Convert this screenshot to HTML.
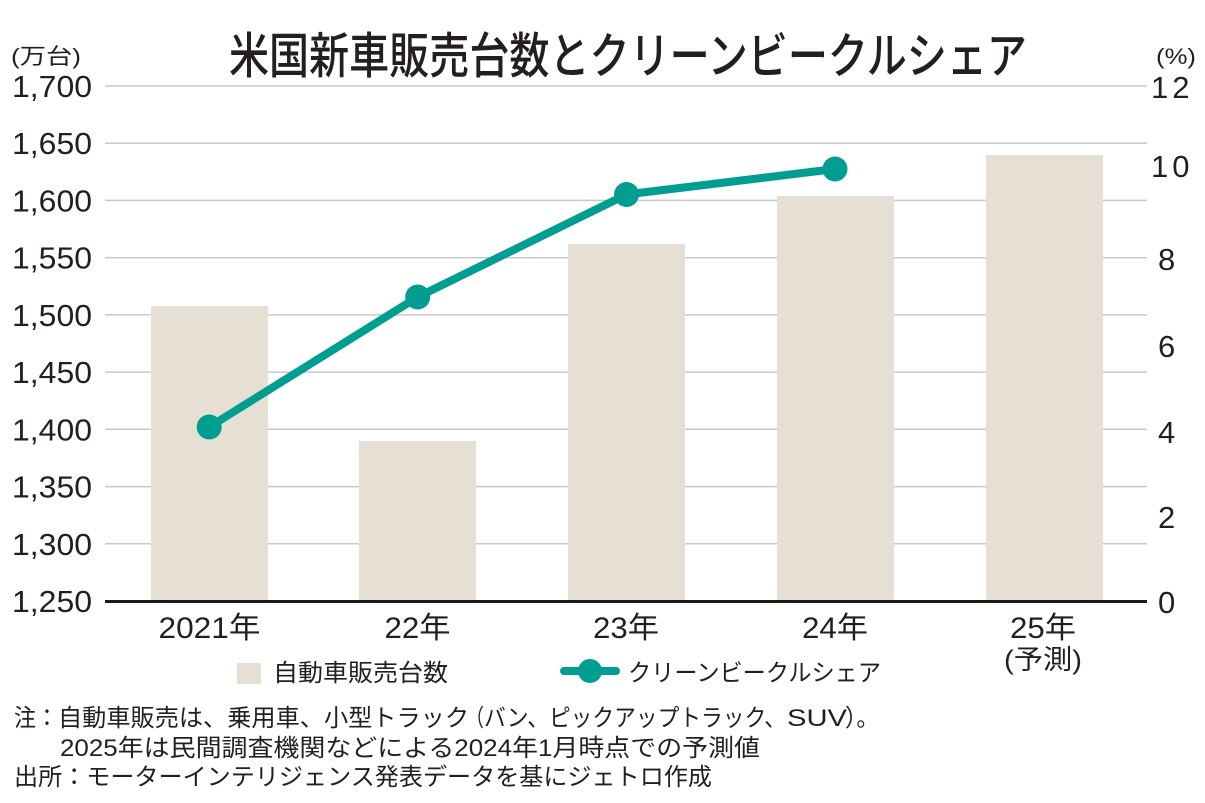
<!DOCTYPE html>
<html>
<head>
<meta charset="utf-8">
<style>
html,body{margin:0;padding:0;background:#fff;}
svg{display:block;}
text{font-family:"Liberation Sans","Noto Sans CJK JP",sans-serif;fill:#231f20;}
</style>
</head>
<body>
<svg width="1205" height="803" viewBox="0 0 1205 803" xmlns="http://www.w3.org/2000/svg">
  <!-- title -->
  <text x="229" y="73" font-size="49" font-weight="500" textLength="798" lengthAdjust="spacingAndGlyphs">米国新車販売台数とクリーンビークルシェア</text>

  <!-- unit labels -->
  <text x="11" y="64" font-size="22" textLength="70" lengthAdjust="spacingAndGlyphs">(万台)</text>
  <text x="1156" y="64" font-size="22" textLength="40" lengthAdjust="spacingAndGlyphs">(%)</text>

  <!-- gridlines -->
  <g stroke="#c9c9c9" stroke-width="1.5">
    <line x1="105" y1="86" x2="1147" y2="86"/>
    <line x1="105" y1="143.2" x2="1147" y2="143.2"/>
    <line x1="105" y1="200.4" x2="1147" y2="200.4"/>
    <line x1="105" y1="257.7" x2="1147" y2="257.7"/>
    <line x1="105" y1="314.9" x2="1147" y2="314.9"/>
    <line x1="105" y1="372.1" x2="1147" y2="372.1"/>
    <line x1="105" y1="429.3" x2="1147" y2="429.3"/>
    <line x1="105" y1="486.6" x2="1147" y2="486.6"/>
    <line x1="105" y1="543.8" x2="1147" y2="543.8"/>
  </g>

  <!-- bars -->
  <g fill="#e5dfd4">
    <rect x="151" y="306" width="117" height="295"/>
    <rect x="359" y="441" width="117" height="160"/>
    <rect x="568" y="244" width="117" height="357"/>
    <rect x="777" y="196" width="117" height="405"/>
    <rect x="986" y="155" width="117" height="446"/>
  </g>

  <!-- axis line -->
  <line x1="105" y1="601.5" x2="1147" y2="601.5" stroke="#1a1a1a" stroke-width="3"/>

  <!-- left tick labels -->
  <g font-size="31" text-anchor="end">
    <text x="92" y="97" textLength="80" lengthAdjust="spacingAndGlyphs">1,700</text>
    <text x="92" y="154.2" textLength="80" lengthAdjust="spacingAndGlyphs">1,650</text>
    <text x="92" y="211.4" textLength="80" lengthAdjust="spacingAndGlyphs">1,600</text>
    <text x="92" y="268.7" textLength="80" lengthAdjust="spacingAndGlyphs">1,550</text>
    <text x="92" y="325.9" textLength="80" lengthAdjust="spacingAndGlyphs">1,500</text>
    <text x="92" y="383.1" textLength="80" lengthAdjust="spacingAndGlyphs">1,450</text>
    <text x="92" y="440.3" textLength="80" lengthAdjust="spacingAndGlyphs">1,400</text>
    <text x="92" y="497.6" textLength="80" lengthAdjust="spacingAndGlyphs">1,350</text>
    <text x="92" y="554.8" textLength="80" lengthAdjust="spacingAndGlyphs">1,300</text>
    <text x="92" y="612" textLength="80" lengthAdjust="spacingAndGlyphs">1,250</text>
  </g>

  <!-- right tick labels -->
  <g font-size="31">
    <text x="1151" y="98" letter-spacing="4">12</text>
    <text x="1151" y="177" letter-spacing="4">10</text>
    <text x="1158" y="270">8</text>
    <text x="1158" y="357">6</text>
    <text x="1158" y="443">4</text>
    <text x="1158" y="528">2</text>
    <text x="1158" y="613">0</text>
  </g>

  <!-- x labels -->
  <g font-size="30" text-anchor="middle">
    <text x="209.5" y="638" textLength="102" lengthAdjust="spacingAndGlyphs">2021年</text>
    <text x="417.5" y="638" textLength="66" lengthAdjust="spacingAndGlyphs">22年</text>
    <text x="626" y="638" textLength="66" lengthAdjust="spacingAndGlyphs">23年</text>
    <text x="835" y="638" textLength="66" lengthAdjust="spacingAndGlyphs">24年</text>
    <text x="1043" y="638" textLength="66" lengthAdjust="spacingAndGlyphs">25年</text>
    <text x="1043" y="669" font-size="27" textLength="78" lengthAdjust="spacingAndGlyphs">(予測)</text>
  </g>

  <!-- line series -->
  <polyline points="209.2,427 417.7,297 626.5,194.5 835,169" fill="none" stroke="#009d91" stroke-width="8" stroke-linejoin="round" stroke-linecap="round"/>
  <g fill="#009d91">
    <circle cx="209.2" cy="427" r="12.5"/>
    <circle cx="417.7" cy="297" r="12.5"/>
    <circle cx="626.5" cy="194.5" r="12.5"/>
    <circle cx="835" cy="169" r="12.5"/>
  </g>

  <!-- legend -->
  <rect x="237" y="663" width="24" height="21" fill="#e5dfd4"/>
  <text x="273" y="681" font-size="24" textLength="175" lengthAdjust="spacingAndGlyphs">自動車販売台数</text>
  <line x1="564" y1="671" x2="616" y2="671" stroke="#009d91" stroke-width="8" stroke-linecap="round"/>
  <circle cx="590" cy="671" r="12" fill="#009d91"/>
  <text x="628" y="681" font-size="24" textLength="253" lengthAdjust="spacingAndGlyphs">クリーンビークルシェア</text>

  <!-- notes -->
  <g font-size="24">
    <text x="14" y="726" textLength="44" lengthAdjust="spacingAndGlyphs">注：</text>
    <text x="58" y="726" textLength="411" lengthAdjust="spacingAndGlyphs">自動車販売は、乗用車、小型トラック</text>
    <text x="466" y="726" textLength="18" lengthAdjust="spacingAndGlyphs">（</text>
    <text x="484" y="726" textLength="302" lengthAdjust="spacingAndGlyphs">バン、ピックアップトラック、</text>
    <text x="787" y="726" textLength="60" lengthAdjust="spacingAndGlyphs">SUV</text>
    <text x="845" y="726" textLength="34" lengthAdjust="spacingAndGlyphs">）。</text>
    <text x="60" y="756" textLength="700" lengthAdjust="spacingAndGlyphs">2025年は民間調査機関などによる2024年1月時点での予測値</text>
    <text x="14" y="785" textLength="698" lengthAdjust="spacingAndGlyphs">出所：モーターインテリジェンス発表データを基にジェトロ作成</text>
  </g>
</svg>
</body>
</html>
